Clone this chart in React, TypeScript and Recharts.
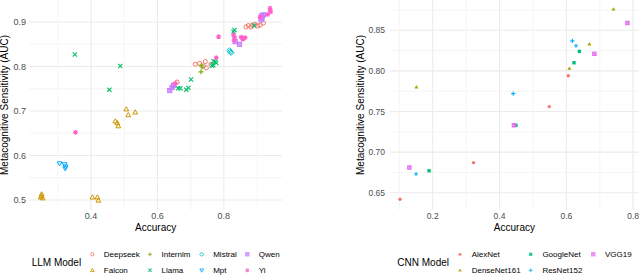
import React from 'react';
import { ScatterChart, Scatter, XAxis, YAxis, CartesianGrid } from 'recharts';

const FONT = '"Liberation Sans", Arial, Helvetica, sans-serif';

// ---- LLM panel data ----
const llmModels = ['Deepseek', 'Falcon', 'Internlm', 'Llama', 'Mistral', 'Mpt', 'Qwen', 'Yi'];
const llmColors = ['#F8766D', '#CD9600', '#7CAE00', '#00BE67', '#00BFC4', '#00A9FF', '#C77CFF', '#FF61CC'];
const llmShapes = ['circleOpen', 'triUpOpen', 'plus', 'cross', 'diamondOpen', 'triDownOpen', 'squareCross', 'asterisk'];

const deepseek = [
  [0.659, 0.765], [0.648, 0.758], [0.714, 0.805], [0.727, 0.807], [0.744, 0.811], [0.747, 0.797],
  [0.738, 0.801], [0.761, 0.805], [0.867, 0.889], [0.874, 0.892], [0.882, 0.889], [0.886, 0.893],
  [0.894, 0.895], [0.902, 0.891], [0.909, 0.893], [0.919, 0.898],
];
const falcon = [
  [0.251, 0.513], [0.254, 0.504], [0.248, 0.506], [0.251, 0.509], [0.404, 0.506], [0.419, 0.506],
  [0.422, 0.499], [0.473, 0.677], [0.479, 0.673], [0.482, 0.666], [0.506, 0.704], [0.512, 0.691],
  [0.533, 0.697],
];
const internlm = [[0.731, 0.788], [0.734, 0.799], [0.732, 0.803]];
const llama = [
  [0.351, 0.827], [0.488, 0.801], [0.455, 0.748], [0.701, 0.771], [0.662, 0.751], [0.669, 0.751],
  [0.687, 0.748], [0.693, 0.752], [0.764, 0.802], [0.769, 0.812], [0.774, 0.811], [0.777, 0.808],
  [0.768, 0.803], [0.829, 0.878], [0.832, 0.882], [0.891, 0.892],
];
const mistral = [[0.819, 0.833], [0.822, 0.831], [0.817, 0.836]];
const mpt = [[0.305, 0.582], [0.32, 0.58], [0.323, 0.575], [0.322, 0.571]];
const qwen = [
  [0.637, 0.746], [0.644, 0.753], [0.649, 0.758], [0.834, 0.856], [0.847, 0.85], [0.914, 0.914],
  [0.919, 0.916], [0.912, 0.905], [0.915, 0.91],
];
const yi = [
  [0.353, 0.652], [0.654, 0.762], [0.777, 0.82], [0.784, 0.867], [0.829, 0.871], [0.832, 0.866],
  [0.831, 0.859], [0.852, 0.866], [0.859, 0.863], [0.864, 0.865], [0.857, 0.861], [0.909, 0.911],
  [0.932, 0.917], [0.939, 0.927], [0.941, 0.923], [0.939, 0.931],
];
const llmSeries = [deepseek, falcon, internlm, llama, mistral, mpt, qwen, yi];

const llmXTicks = [0.3, 0.4, 0.5, 0.6, 0.7, 0.8, 0.9];
const llmYTicks = [0.5, 0.55, 0.6, 0.65, 0.7, 0.75, 0.8, 0.85, 0.9];

// ---- CNN panel data ----
const cnnModels = ['AlexNet', 'DenseNet161', 'GoogleNet', 'ResNet152', 'VGG19'];
const cnnColors = ['#F8766D', '#A3A500', '#00BF7D', '#00B0F6', '#E76BF3'];
const cnnShapes = ['circle', 'triUp', 'square', 'plus', 'squareCross'];

const alexnet = [[0.606, 0.794], [0.549, 0.756], [0.322, 0.687], [0.102, 0.642]];
const densenet = [[0.741, 0.876], [0.669, 0.833], [0.609, 0.803], [0.151, 0.78]];
const googlenet = [[0.639, 0.824], [0.623, 0.81], [0.449, 0.733], [0.189, 0.677]];
const resnet = [[0.618, 0.837], [0.629, 0.831], [0.441, 0.772], [0.15, 0.673]];
const vgg = [[0.783, 0.859], [0.684, 0.821], [0.443, 0.733], [0.13, 0.681]];
const cnnSeries = [alexnet, densenet, googlenet, resnet, vgg];

const cnnXTicks = [0.1, 0.2, 0.3, 0.4, 0.5, 0.6, 0.7, 0.8];
const cnnYTicks = [0.65, 0.675, 0.7, 0.725, 0.75, 0.775, 0.8, 0.825, 0.85, 0.875];

const toXY = (arr: number[][]) => arr.map(([x, y]) => ({ x, y }));

const Marker = ({ kind, cx, cy, color, s = 2 }: any) => {
  const sw = 1;
  const line = { stroke: color, strokeWidth: sw, fill: 'none' };
  switch (kind) {
    case 'circleOpen':
      return <circle cx={cx} cy={cy} r={s} {...line} />;
    case 'circle':
      return <circle cx={cx} cy={cy} r={s} fill={color} />;
    case 'triUpOpen':
    case 'triUp': {
      const pts = `${cx},${cy - s * 1.2} ${cx - s * 1.15},${cy + s * 0.8} ${cx + s * 1.15},${cy + s * 0.8}`;
      return kind === 'triUp' ? <polygon points={pts} fill={color} /> : <polygon points={pts} {...line} />;
    }
    case 'triDownOpen': {
      const pts = `${cx},${cy + s * 1.2} ${cx - s * 1.15},${cy - s * 0.8} ${cx + s * 1.15},${cy - s * 0.8}`;
      return <polygon points={pts} {...line} />;
    }
    case 'diamondOpen': {
      const d = s * 1.3;
      return <polygon points={`${cx},${cy - d} ${cx + d},${cy} ${cx},${cy + d} ${cx - d},${cy}`} {...line} />;
    }
    case 'plus':
      return <path d={`M${cx - s * 1.2},${cy}H${cx + s * 1.2}M${cx},${cy - s * 1.2}V${cy + s * 1.2}`} stroke={color} strokeWidth={1.1} />;
    case 'cross':
      return <path d={`M${cx - s},${cy - s}L${cx + s},${cy + s}M${cx - s},${cy + s}L${cx + s},${cy - s}`} stroke={color} strokeWidth={1.1} />;
    case 'asterisk': {
      const a = s * 1.15;
      return (
        <path
          d={`M${cx - a},${cy}H${cx + a}M${cx},${cy - a}V${cy + a}M${cx - s * 0.85},${cy - s * 0.85}L${cx + s * 0.85},${cy + s * 0.85}M${cx - s * 0.85},${cy + s * 0.85}L${cx + s * 0.85},${cy - s * 0.85}`}
          stroke={color}
          strokeWidth={1.1}
        />
      );
    }
    case 'square':
      return <rect x={cx - s} y={cy - s} width={s * 2} height={s * 2} fill={color} />;
    case 'squareCross':
      return (
        <g>
          <rect x={cx - s} y={cy - s} width={s * 2} height={s * 2} fill={color} fillOpacity={0.55} stroke={color} strokeWidth={sw} />
          <path d={`M${cx - s},${cy - s}L${cx + s},${cy + s}M${cx - s},${cy + s}L${cx + s},${cy - s}`} stroke={color} strokeWidth={0.8} />
        </g>
      );
    default:
      return null;
  }
};

const gridLine = (majorParity: number) => (p: any) => {
  const major = p.index % 2 === majorParity;
  return (
    <line
      key={p.key}
      x1={p.x1}
      y1={p.y1}
      x2={p.x2}
      y2={p.y2}
      stroke={major ? '#ebebeb' : '#f2f2f2'}
      strokeWidth={major ? 1.1 : 0.8}
    />
  );
};

const xTitle = (dy: number) => (props: any) => {
  const vb = props.viewBox;
  return (
    <text x={vb.x + vb.width / 2} y={vb.y + dy} textAnchor="middle" fontSize={10} fill="#000">
      Accuracy
    </text>
  );
};

const yTitle = (x: number) => (props: any) => {
  const vb = props.viewBox;
  const cy = vb.y + vb.height / 2;
  return (
    <text x={x} y={cy} transform={`rotate(-90 ${x} ${cy})`} textAnchor="middle" fontSize={10} fill="#000">
      Metacognitive Sensitivity (AUC)
    </text>
  );
};

const LegendBox = ({ title, titleX, names, colors, shapes, colX, labelGap }: any) => (
  <svg width={320} height={36} style={{ position: 'absolute', left: 0, top: 240, overflow: 'visible' }}>
    <text x={titleX} y={25.9} fontSize={10} fill="#000">
      {title}
    </text>
    {names.map((name: string, i: number) => {
      const col = Math.floor(i / 2);
      const row = i % 2;
      const cx = colX[col];
      const cy = row === 0 ? 14.3 : 30.3;
      return (
        <g key={name}>
          <g opacity={0.85}>
            <Marker kind={shapes[i]} cx={cx} cy={cy} color={colors[i]} s={1.6} />
          </g>
          <text x={cx + labelGap} y={cy + 2.9} fontSize={8} fill="#000">
            {name}
          </text>
        </g>
      );
    })}
  </svg>
);

export default function App() {
  return (
    <div style={{ position: 'absolute', left: 0, top: 0, width: 640, height: 276, fontFamily: FONT, background: '#fff' }}>
      <div style={{ position: 'absolute', left: 0, top: 0 }}>
        <ScatterChart width={300} height={240} margin={{ top: 0, right: 17.7, bottom: 0, left: 0 }}>
          <CartesianGrid syncWithTicks horizontal={gridLine(0)} vertical={gridLine(1)} />
          <XAxis
            type="number"
            dataKey="x"
            domain={[0.213, 0.976]}
            ticks={llmXTicks}
            tickFormatter={(v: number) => (Math.round(v * 10) % 2 === 0 ? v.toFixed(1) : '')}
            axisLine={false}
            tickLine={false}
            tickSize={0}
            tickMargin={3}
            height={30}
            tick={{ fill: '#4d4d4d', fontSize: 9 }}
            interval={0}
            label={{ content: xTitle(20.5) }}
          />
          <YAxis
            type="number"
            dataKey="y"
            domain={[0.4775, 0.9495]}
            ticks={llmYTicks}
            tickFormatter={(v: number) => (Math.abs(v * 10 - Math.round(v * 10)) < 1e-6 ? v.toFixed(1) : '')}
            axisLine={false}
            tickLine={false}
            tickSize={0}
            tickMargin={3}
            width={29}
            tick={{ fill: '#4d4d4d', fontSize: 9 }}
            interval={0}
            label={{ content: yTitle(7.5) }}
          />
          {llmModels.map((name, i) => (
            <Scatter
              key={name}
              name={name}
              data={toXY(llmSeries[i])}
              isAnimationActive={false}
              shape={(p: any) => <Marker kind={llmShapes[i]} cx={p.cx} cy={p.cy} color={llmColors[i]} s={2.1} />}
            />
          ))}
        </ScatterChart>
        <LegendBox
          title="LLM Model"
          titleX={31.7}
          names={llmModels}
          colors={llmColors}
          shapes={llmShapes}
          colX={[92.3, 150, 201.7, 247.3]}
          labelGap={11.5}
        />
      </div>
      <div style={{ position: 'absolute', left: 320, top: 0 }}>
        <ScatterChart width={320} height={240} margin={{ top: 0, right: 1.2, bottom: 0, left: 40 }}>
          <CartesianGrid syncWithTicks horizontal={gridLine(0)} vertical={gridLine(1)} />
          <XAxis
            type="number"
            dataKey="x"
            domain={[0.072, 0.817]}
            ticks={cnnXTicks}
            tickFormatter={(v: number) => (Math.round(v * 10) % 2 === 0 ? v.toFixed(1) : '')}
            axisLine={false}
            tickLine={false}
            tickSize={0}
            tickMargin={3}
            height={30}
            tick={{ fill: '#4d4d4d', fontSize: 8.5 }}
            interval={0}
            label={{ content: xTitle(20.5) }}
          />
          <YAxis
            type="number"
            dataKey="y"
            domain={[0.6287, 0.8873]}
            ticks={cnnYTicks}
            tickFormatter={(v: number) => (Math.abs(v * 20 - Math.round(v * 20)) < 1e-6 ? v.toFixed(2) : '')}
            axisLine={false}
            tickLine={false}
            tickSize={0}
            tickMargin={5}
            width={30}
            tick={{ fill: '#4d4d4d', fontSize: 8.5 }}
            interval={0}
            label={{ content: yTitle(44) }}
          />
          {cnnModels.map((name, i) => (
            <Scatter
              key={name}
              name={name}
              data={toXY(cnnSeries[i])}
              isAnimationActive={false}
              shape={(p: any) => <Marker kind={cnnShapes[i]} cx={p.cx} cy={p.cy} color={cnnColors[i]} s={1.7} />}
            />
          ))}
        </ScatterChart>
        <div style={{ position: 'absolute', left: 0, top: 0 }}>
          <LegendBox
            title="CNN Model"
            titleX={77.3}
            names={cnnModels}
            colors={cnnColors}
            shapes={cnnShapes}
            colX={[140, 210.7, 273.3]}
            labelGap={11.7}
          />
        </div>
      </div>
    </div>
  );
}
